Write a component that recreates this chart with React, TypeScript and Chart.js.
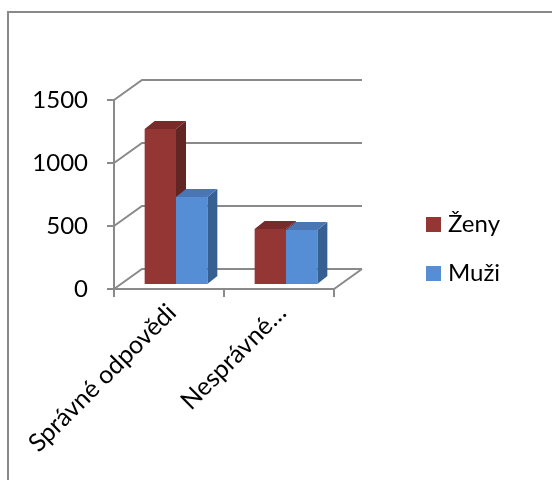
import React, { useEffect, useRef } from "react";
import { Chart, registerables } from "chart.js";

Chart.register(...registerables);

// ---- data ----
const categories = ["Správné odpovědi", "Nesprávné…"];
const seriesNames = ["Ženy", "Muži"];
const zenyValues = [1230, 437];
const muziValues = [690, 429];
const yTickValues = [0, 500, 1000, 1500];

// ---- styles ----
const FRONT_COLORS = ["#943634", "#558ed5"];
const SIDE_COLORS = ["#632523", "#376092"];
const TOP_COLORS = ["#772c2a", "#4a76b4"];
const WALL_COLOR = "#8a8a8a";
const FONT_FAMILY = "Lato";
const FONT_SIZE = 24;

const WALL_DX = 28;
const WALL_DY = -20;
const BAR_SHIFT_X = 7;
const BAR_SHIFT_Y = -5;
const BAR_DX = 10;
const BAR_DY = -8;

const threeDPlugin = {
  id: "threeD",
  beforeDatasetsDraw(chart: any) {
    const { ctx, chartArea } = chart;
    const xs = chart.scales.x;
    const ys = chart.scales.y;
    const L = chartArea.left;
    const R = chartArea.right;
    const B = ys.getPixelForValue(0);
    const T = ys.getPixelForValue(yTickValues[yTickValues.length - 1]);

    ctx.save();
    ctx.strokeStyle = WALL_COLOR;
    ctx.lineWidth = 2;
    ctx.lineCap = "butt";
    ctx.beginPath();
    for (const v of yTickValues) {
      const py = ys.getPixelForValue(v);
      ctx.moveTo(L, py);
      ctx.lineTo(L + WALL_DX, py + WALL_DY);
      ctx.lineTo(R + WALL_DX, py + WALL_DY);
      ctx.moveTo(L - 7, py);
      ctx.lineTo(L, py);
    }
    // y axis
    ctx.moveTo(L, T);
    ctx.lineTo(L, B + 1);
    // floor front + right edge
    ctx.moveTo(L, B);
    ctx.lineTo(R, B);
    ctx.lineTo(R + WALL_DX, B + WALL_DY);
    // category tick marks
    const n = categories.length;
    for (let i = 0; i <= n; i++) {
      const px = i < n ? xs.getPixelForValue(i) - (R - L) / n / 2 : R;
      ctx.moveTo(px, B);
      ctx.lineTo(px, B + 8);
    }
    ctx.stroke();
    ctx.restore();

    // bars: shift into depth, draw side and top faces behind the fronts
    ctx.save();
    ctx.translate(BAR_SHIFT_X, BAR_SHIFT_Y);
    const metas = chart.data.datasets.map((_: any, i: number) => chart.getDatasetMeta(i));
    for (let j = 0; j < categories.length; j++) {
      metas.forEach((meta: any, i: number) => {
        const el = meta.data[j];
        if (!el) return;
        const l = el.x - el.width / 2;
        const r = el.x + el.width / 2;
        const t = el.y;
        const b = el.base;
        ctx.fillStyle = SIDE_COLORS[i];
        ctx.beginPath();
        ctx.moveTo(r, t);
        ctx.lineTo(r + BAR_DX, t + BAR_DY);
        ctx.lineTo(r + BAR_DX, b + BAR_DY);
        ctx.lineTo(r, b);
        ctx.closePath();
        ctx.fill();
        ctx.fillStyle = TOP_COLORS[i];
        ctx.beginPath();
        ctx.moveTo(l, t);
        ctx.lineTo(l + BAR_DX, t + BAR_DY);
        ctx.lineTo(r + BAR_DX, t + BAR_DY);
        ctx.lineTo(r, t);
        ctx.closePath();
        ctx.fill();
      });
    }
  },
  afterDatasetsDraw(chart: any) {
    chart.ctx.restore();
  },
};

const legendPlugin = {
  id: "sideLegend",
  afterDraw(chart: any) {
    const { ctx } = chart;
    ctx.save();
    ctx.font = `${FONT_SIZE}px ${FONT_FAMILY}`;
    ctx.textBaseline = "alphabetic";
    ctx.textAlign = "left";
    chart.data.datasets.forEach((ds: any, i: number) => {
      const by = 217 + i * 49;
      ctx.fillStyle = FRONT_COLORS[i];
      ctx.fillRect(426, by, 15, 15);
      ctx.fillStyle = "#000";
      ctx.fillText(ds.label, 448, by + 15);
    });
    ctx.restore();
  },
};

export default function App() {
  const ref = useRef<HTMLCanvasElement | null>(null);

  useEffect(() => {
    if (!ref.current) return;
    const chart = new Chart(ref.current, {
      type: "bar",
      data: {
        labels: categories,
        datasets: [
          {
            label: seriesNames[0],
            data: zenyValues,
            backgroundColor: FRONT_COLORS[0],
            borderWidth: 0,
            clip: false as any,
          },
          {
            label: seriesNames[1],
            data: muziValues,
            backgroundColor: FRONT_COLORS[1],
            borderWidth: 0,
            clip: false as any,
          },
        ],
      },
      options: {
        responsive: false,
        animation: false,
        devicePixelRatio: 1,
        datasets: {
          bar: { categoryPercentage: 0.57, barPercentage: 1 },
        },
        layout: { padding: { left: 0, top: 100, right: 218, bottom: 0 } },
        plugins: {
          legend: { display: false },
          tooltip: { enabled: false },
        },
        scales: {
          x: {
            grid: { display: false, drawTicks: false },
            border: { display: false },
            ticks: {
              color: "#000",
              font: { family: FONT_FAMILY, size: 25 },
              minRotation: 45,
              maxRotation: 45,
              padding: 9,
              labelOffset: 3,
              autoSkip: false,
            },
            afterFit: (s: any) => {
              s.height = 191;
              s.paddingLeft = 0;
              s.paddingRight = 0;
            },
          },
          y: {
            min: 0,
            max: 1500,
            grid: { display: false, drawTicks: false },
            border: { display: false },
            ticks: {
              color: "#000",
              font: { family: FONT_FAMILY, size: FONT_SIZE },
              stepSize: 500,
              padding: 26,
              callback: (v: any) => String(v),
            },
            afterFit: (s: any) => {
              s.width = 114;
              s.paddingTop = 0;
              s.paddingBottom = 0;
            },
          },
        },
      },
      plugins: [threeDPlugin, legendPlugin],
    });
    return () => chart.destroy();
  }, []);

  return (
    <div
      style={{
        position: "absolute",
        left: 0,
        top: 0,
        width: 552,
        height: 480,
        overflow: "hidden",
        background: "#fff",
      }}
    >
      <div
        style={{
          position: "absolute",
          left: 7,
          top: 11,
          width: 700,
          height: 700,
          border: "2px solid #898989",
        }}
      />
      <canvas
        ref={ref}
        width={552}
        height={480}
        style={{ position: "absolute", left: 0, top: 0, width: 552, height: 480 }}
      />
    </div>
  );
}
